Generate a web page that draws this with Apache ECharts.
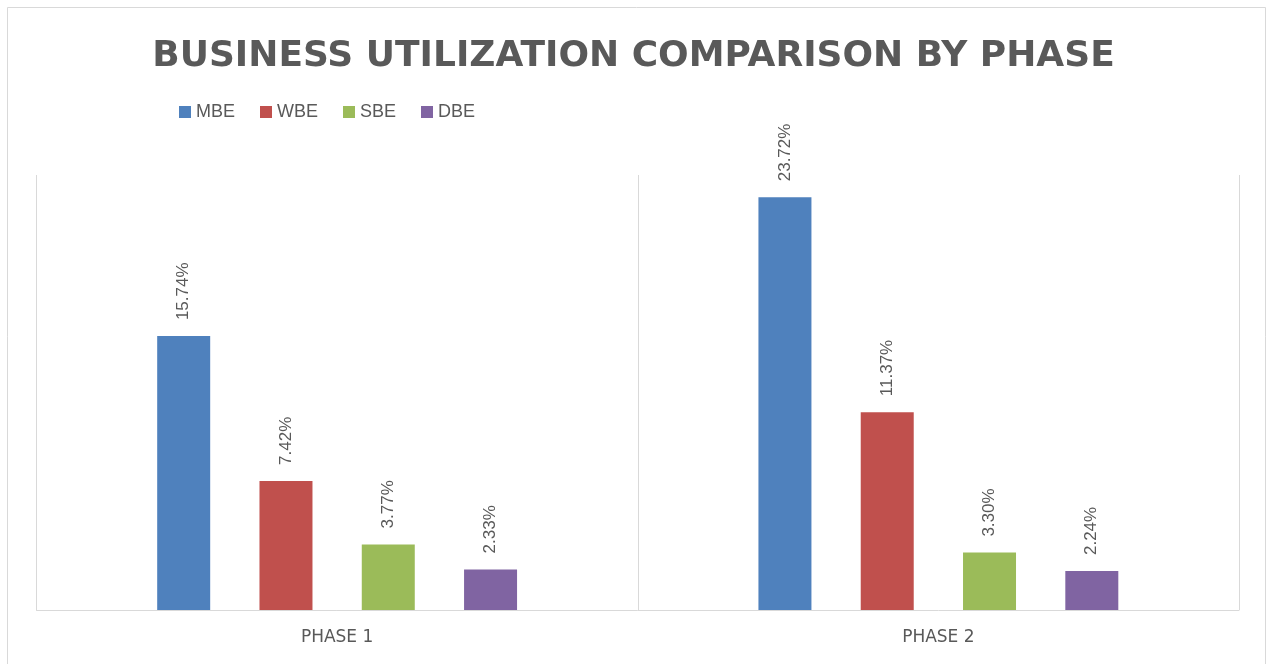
<!DOCTYPE html>
<html><head><meta charset="utf-8">
<script src="https://cdn.jsdelivr.net/npm/echarts@6/dist/echarts.min.js"></script>
<style>html,body{margin:0;padding:0;background:#fff}#c{width:1267px;height:664px}</style>
</head><body><div id="c"></div>
<script>
const categories = ['PHASE 1', 'PHASE 2'];
const seriesNames = ['MBE', 'WBE', 'SBE', 'DBE'];
const MBE = [15.74, 23.72];
const WBE = [7.42, 11.37];
const SBE = [3.77, 3.30];
const DBE = [2.33, 2.24];
const colors = ['#4F81BD', '#C0504D', '#9BBB59', '#8064A2'];
const values = [MBE, WBE, SBE, DBE];

const chart = echarts.init(document.getElementById('c'));
const font = '"Liberation Sans", Arial, sans-serif';
chart.setOption({
  animation: false,
  backgroundColor: '#fff',
  graphic: [{
    type: 'rect', shape: {x: 7.5, y: 7.5, width: 1258, height: 670},
    style: {fill: 'none', stroke: '#d9d9d9', lineWidth: 1}, silent: true, z: -1
  }],
  title: {
    text: 'BUSINESS UTILIZATION COMPARISON BY PHASE',
    left: 'center', top: 34,
    textStyle: {fontFamily: '"DejaVu Sans", sans-serif', fontSize: 36, fontWeight: 'bold', color: '#595959'}
  },
  legend: {
    left: 174, top: 98, itemWidth: 12, itemHeight: 12, itemGap: 25,
    icon: 'rect',
    textStyle: {fontFamily: font, fontSize: 18, color: '#595959'},
    data: seriesNames
  },
  grid: {left: 36.5, right: 28, top: 175, bottom: 54, containLabel: false},
  xAxis: {
    type: 'category', data: categories,
    axisLine: {show: true, lineStyle: {color: '#d9d9d9', width: 1}},
    axisTick: {show: false},
    splitLine: {show: true, interval: 0, lineStyle: {color: '#d9d9d9', width: 1}},
    axisLabel: {fontFamily: '"DejaVu Sans", sans-serif', fontSize: 17, color: '#595959', margin: 19}
  },
  yAxis: {
    type: 'value', min: 0, max: 25, interval: 5,
    show: false, splitLine: {show: false}
  },
  series: values.map((v, i) => ({
    name: seriesNames[i], type: 'bar', data: v,
    barWidth: 53, barGap: '93%',
    itemStyle: {color: colors[i]},
    label: {
      show: true, position: 'top', rotate: 90, align: 'left', verticalAlign: 'middle',
      distance: 16, fontFamily: font, fontSize: 17, color: '#595959',
      formatter: p => p.value.toFixed(2) + '%'
    }
  }))
});
</script></body></html>
